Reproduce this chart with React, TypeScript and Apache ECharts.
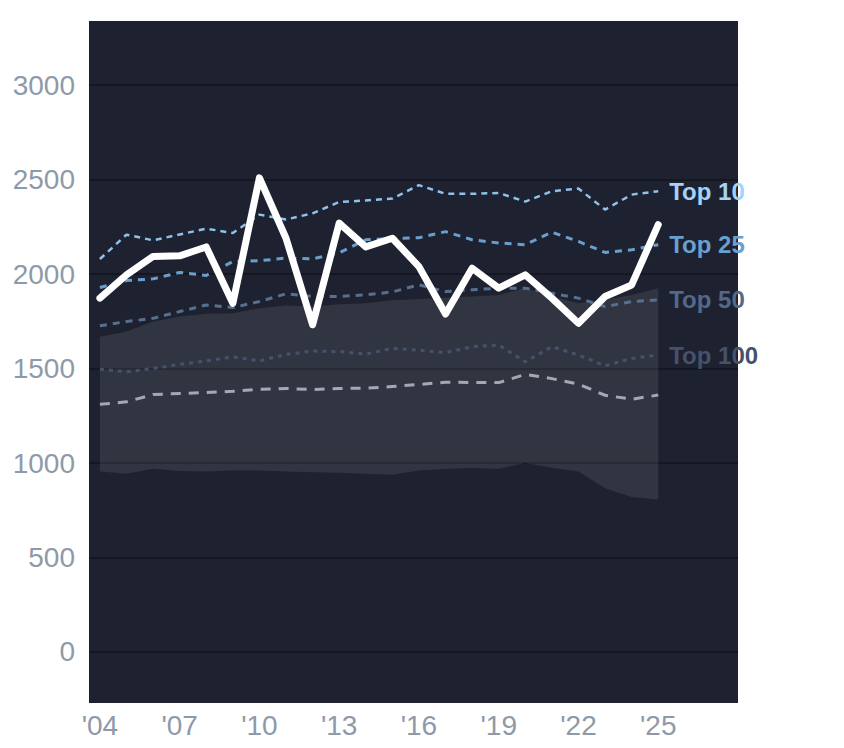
import React, { useEffect, useRef } from "react";
import * as echarts from "echarts";

const years = [2004, 2005, 2006, 2007, 2008, 2009, 2010, 2011, 2012, 2013, 2014, 2015, 2016, 2017, 2018, 2019, 2020, 2021, 2022, 2023, 2024, 2025];
const xTickYears = [2004, 2007, 2010, 2013, 2016, 2019, 2022, 2025];
const yTicks = [0, 500, 1000, 1500, 2000, 2500, 3000];

const mainSeries = [1873, 1996, 2094, 2097, 2144, 1846, 2510, 2190, 1732, 2270, 2144, 2190, 2040, 1789, 2031, 1926, 1996, 1873, 1740, 1882, 1943, 2262];
const top10 = [2080, 2209, 2179, 2210, 2241, 2218, 2315, 2289, 2322, 2382, 2390, 2400, 2471, 2425, 2425, 2430, 2384, 2439, 2453, 2342, 2421, 2439];
const top25 = [1929, 1966, 1975, 2009, 1993, 2067, 2071, 2085, 2081, 2113, 2182, 2188, 2193, 2225, 2182, 2165, 2156, 2222, 2173, 2115, 2129, 2156];
const top50 = [1727, 1749, 1766, 1802, 1837, 1823, 1855, 1896, 1882, 1882, 1890, 1906, 1943, 1908, 1917, 1926, 1926, 1899, 1873, 1828, 1855, 1864];
const top100 = [1497, 1483, 1501, 1522, 1541, 1562, 1541, 1575, 1593, 1590, 1577, 1607, 1598, 1584, 1616, 1625, 1536, 1616, 1572, 1515, 1554, 1572];
const medianLine = [1311, 1324, 1363, 1368, 1373, 1380, 1391, 1395, 1389, 1395, 1396, 1405, 1416, 1428, 1427, 1426, 1469, 1447, 1418, 1359, 1338, 1360];
const bandUpper = [1669, 1696, 1749, 1776, 1790, 1793, 1820, 1834, 1829, 1841, 1846, 1862, 1868, 1875, 1882, 1890, 1926, 1882, 1846, 1864, 1890, 1926];
const bandLower = [956, 944, 970, 958, 956, 961, 961, 956, 952, 949, 944, 938, 961, 970, 974, 970, 1001, 975, 956, 867, 820, 807];

const FONT = "'Liberation Sans', Arial, Helvetica, sans-serif";

const pairs = (vals: number[]) => years.map((y, i) => [y, vals[i]]);

function dashedLine(name: string, vals: number[], color: string, dash: number[], width: number, labelColor: string | null) {
  return {
    name,
    type: "line",
    data: pairs(vals),
    symbol: "none",
    smooth: false,
    lineStyle: { color, width, type: dash, cap: "butt", join: "round" },
    endLabel: labelColor
      ? {
          show: true,
          formatter: name,
          color: labelColor,
          fontSize: 24,
          fontWeight: "bold",
          fontFamily: FONT,
          distance: 11,
        }
      : { show: false },
    z: 3,
  };
}

export default function App() {
  const ref = useRef<HTMLDivElement>(null);
  useEffect(() => {
    document.body.style.margin = "0";
    if (!ref.current) return;
    const chart = echarts.init(ref.current, null, { renderer: "svg" });
    const bandData = years.map((y, i) => [y, bandLower[i], bandUpper[i]]);
    const option = {
      animation: false,
      backgroundColor: "#ffffff",
      grid: {
        left: 89,
        right: 106,
        top: 21,
        bottom: 45,
        show: true,
        backgroundColor: "#1d2130",
        borderWidth: 0,
      },
      xAxis: {
        type: "value",
        min: 2003.59,
        max: 2028,
        axisLine: { show: false },
        axisTick: { show: false, customValues: xTickYears },
        splitLine: { show: false },
        axisLabel: {
          customValues: xTickYears,
          formatter: (v: number) => "'" + String(v).slice(2),
          color: "#8e99a9",
          fontSize: 28,
          fontFamily: FONT,
          margin: 8,
        },
      },
      yAxis: {
        type: "value",
        min: -270,
        max: 3340,
        axisLine: { show: false },
        axisTick: { show: false, customValues: yTicks },
        splitLine: { show: true, lineStyle: { color: "#141720", width: 2 } },
        axisLabel: {
          customValues: yTicks,
          formatter: (v: number) => String(v),
          color: "#8e99a9",
          fontSize: 28,
          fontFamily: FONT,
          margin: 14,
        },
      },
      series: [
        {
          name: "band",
          type: "custom",
          data: bandData,
          encode: { x: 0, y: [1, 2] },
          z: 1,
          renderItem: (params: any, api: any) => {
            if (params.dataIndex !== 0) return null;
            const pts: number[][] = [];
            for (let i = 0; i < bandData.length; i++) {
              pts.push(api.coord([bandData[i][0], bandData[i][2]]));
            }
            for (let i = bandData.length - 1; i >= 0; i--) {
              pts.push(api.coord([bandData[i][0], bandData[i][1]]));
            }
            return {
              type: "polygon",
              shape: { points: pts },
              style: { fill: "rgba(255,255,255,0.09)", stroke: "none" },
            };
          },
        },
        dashedLine("median", medianLine, "#a3a8b3", [10, 8], 3, null),
        dashedLine("Top 100", top100, "#46526b", [4, 5], 3, "#46526b"),
        dashedLine("Top 50", top50, "#56708f", [7, 6], 3, "#52698a"),
        dashedLine("Top 25", top25, "#6a9fcc", [7, 6], 3, "#6aa0cf"),
        dashedLine("Top 10", top10, "#8ec2ea", [6, 5], 2.5, "#a3d2fb"),
        {
          name: "main",
          type: "line",
          data: pairs(mainSeries),
          symbol: "none",
          lineStyle: { color: "#ffffff", width: 7, cap: "round", join: "round" },
          z: 5,
        },
      ],
    };
    chart.setOption(option as any);
    return () => chart.dispose();
  }, []);
  return <div ref={ref} style={{ width: 844, height: 748 }} />;
}
